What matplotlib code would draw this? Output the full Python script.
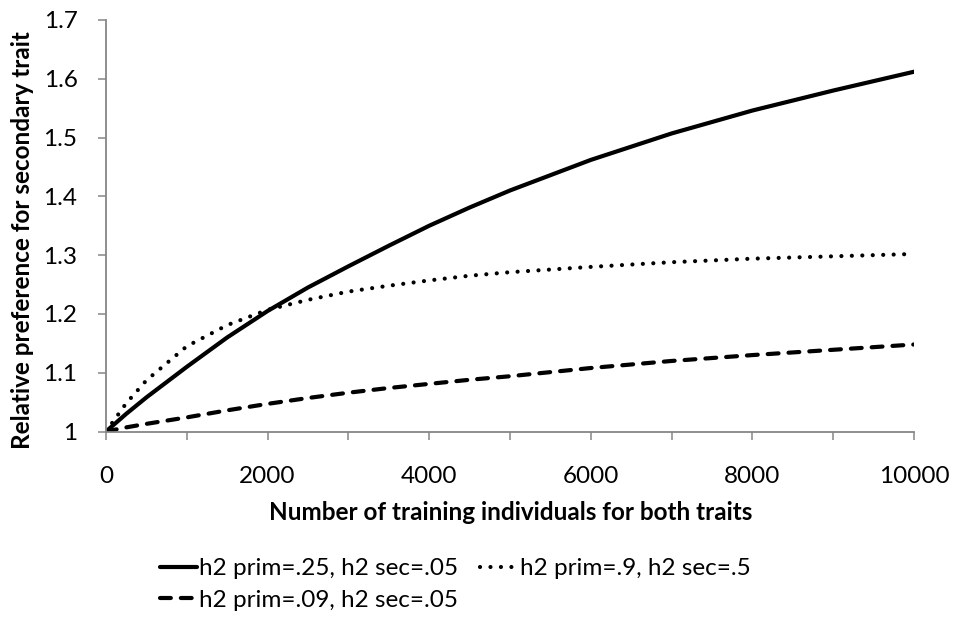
import matplotlib
matplotlib.use("Agg")
import matplotlib.pyplot as plt
from matplotlib.ticker import MultipleLocator, FuncFormatter

# training set size (both traits)
n_train = [0, 250, 500, 1000, 1500, 2000, 2500, 3000, 3500, 4000, 4500, 5000, 6000, 7000, 8000, 9000, 10000]

# relative preference for the secondary trait
pref_25_05 = [1.0, 1.030, 1.058, 1.110, 1.160, 1.205, 1.245, 1.281, 1.316, 1.350, 1.381, 1.410,
              1.462, 1.507, 1.546, 1.580, 1.612]
pref_9_5 = [1.0, 1.048, 1.087, 1.145, 1.181, 1.207, 1.224, 1.238, 1.248, 1.257, 1.265, 1.271,
            1.280, 1.288, 1.294, 1.298, 1.302]
pref_09_05 = [1.0, 1.007, 1.013, 1.024, 1.036, 1.047, 1.057, 1.066, 1.074, 1.081, 1.088, 1.094,
              1.108, 1.120, 1.130, 1.139, 1.148]

labels = ["h2 prim=.25, h2 sec=.05", "h2 prim=.9, h2 sec=.5", "h2 prim=.09, h2 sec=.05"]

plt.rcParams['font.family'] = ['Lato', 'DejaVu Sans']
W, H = 955, 621
fig = plt.figure(figsize=(W / 100, H / 100), dpi=100)
ax = fig.add_axes([106 / W, 1 - 431.5 / H, 808 / W, 411.5 / H])

fs = 17.5
l1, = ax.plot(n_train, pref_25_05, color='black', lw=3, solid_capstyle='round')
l2, = ax.plot(n_train, pref_9_5, color='black', lw=3, linestyle=(0, (0.01, 2.5)),
              dash_capstyle='round')
l3, = ax.plot(n_train, pref_09_05, color='black', lw=3, linestyle=(0, (2.6, 2.4)),
              dash_capstyle='round')

ax.set_xlim(0, 10000)
ax.set_ylim(1, 1.7)
ax.xaxis.set_major_locator(MultipleLocator(2000))
ax.xaxis.set_minor_locator(MultipleLocator(1000))
ax.yaxis.set_major_locator(MultipleLocator(0.1))
ax.yaxis.set_major_formatter(FuncFormatter(lambda v, p: "%g" % round(v, 1)))

grey = '#868686'
for s in ['top', 'right']:
    ax.spines[s].set_visible(False)
for s in ['left', 'bottom']:
    ax.spines[s].set_color(grey)
    ax.spines[s].set_linewidth(1.3)
ax.tick_params(which='both', direction='out', length=5.5, width=1.1, color=grey,
               labelsize=fs, labelcolor='black')
ax.tick_params(axis='x', which='both', pad=19)
ax.tick_params(axis='y', pad=15)

fig.text(511 / W, 1 - 512 / H, "Number of training individuals for both traits",
         ha='center', va='center', fontsize=fs, fontweight='bold')
fig.text(23 / W, 1 - 240 / H, "Relative preference for secondary trait",
         ha='center', va='center', rotation=90, fontsize=fs, fontweight='bold')

fig.legend([l1, l3, l2], [labels[0], labels[2], labels[1]], ncol=2,
           loc='upper left', bbox_to_anchor=(160 / W, 1 - 558 / H),
           frameon=False, fontsize=fs, handlelength=1.52, handletextpad=0.1,
           columnspacing=0.9, labelspacing=0.45, borderpad=0, borderaxespad=0)

fig.savefig("out.png", dpi=100)
